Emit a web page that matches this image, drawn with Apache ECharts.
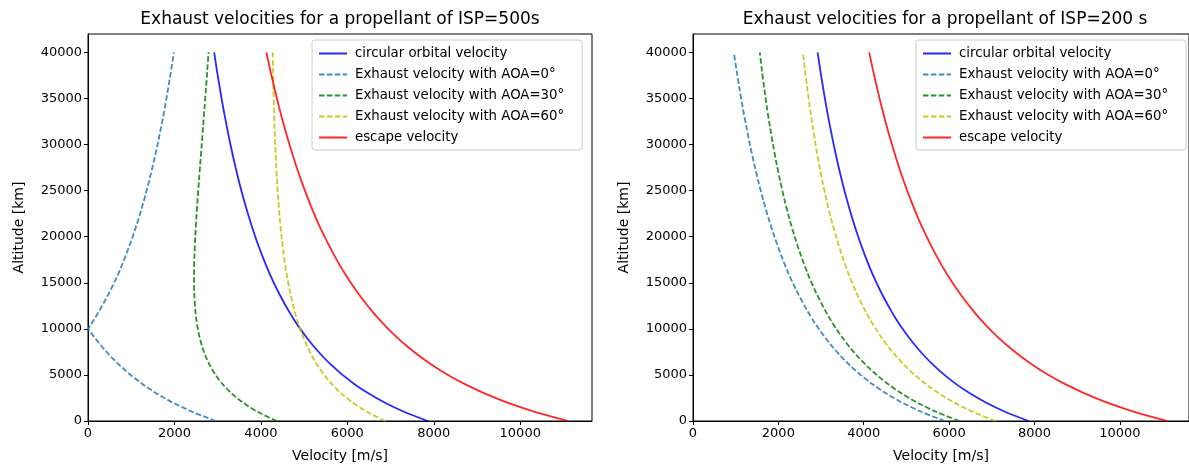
<!DOCTYPE html>
<html>
<head>
<meta charset="utf-8">
<script src="https://cdn.jsdelivr.net/npm/echarts@6/dist/echarts.min.js"></script>
<style>
html,body{margin:0;padding:0;background:#fff;}
#chart{width:1189px;height:468px;}
</style>
</head>
<body>
<div id="chart"></div>
<script>
// Altitude samples [km]
const altitude = [0,1000,2000,3000,4000,5000,6000,7000,8000,9000,10000,11000,12000,14000,16000,18000,20000,22000,24000,26000,28000,30000,32000,34000,36000,38000,40000];

// Shared curves [m/s]
const circularVel = [7860,7310,6861,6486,6166,5889,5647,5432,5240,5067,4910,4767,4636,4403,4201,4026,3870,3731,3606,3493,3390,3296,3209,3128,3054,2984,2919];
const escapeVel = [11116,10338,9703,9173,8720,8328,7986,7682,7410,7166,6944,6742,6556,6227,5941,5694,5473,5276,5100,4940,4794,4661,4538,4424,4319,4220,4128];

// ISP = 500 s
const isp500_aoa0 = [2955,2405,1956,1581,1261,984,742,527,335,162,5,138,269,502,704,879,1035,1174,1299,1412,1515,1609,1696,1777,1851,1921,1986];
const isp500_aoa30 = [4366,3923,3584,3320,3114,2951,2824,2723,2646,2586,2540,2507,2483,2457,2453,2463,2482,2506,2535,2566,2598,2631,2663,2696,2728,2759,2789];
const isp500_aoa60 = [6877,6453,6122,5858,5642,5464,5315,5189,5081,4988,4907,4837,4776,4674,4594,4530,4478,4436,4402,4373,4350,4331,4315,4301,4290,4281,4273];

// ISP = 200 s
const isp200_aoa0 = [5898,5348,4899,4524,4204,3927,3685,3470,3278,3105,2948,2805,2674,2441,2239,2064,1908,1769,1644,1531,1428,1334,1247,1166,1092,1022,957];
const isp200_aoa30 = [6238,5696,5254,4886,4573,4303,4068,3860,3674,3508,3357,3221,3096,2876,2687,2525,2382,2256,2144,2045,1955,1874,1801,1733,1673,1616,1565];
const isp200_aoa60 = [7086,6553,6121,5761,5456,5194,4966,4764,4585,4425,4281,4150,4031,3820,3641,3487,3352,3233,3127,3033,2948,2872,2802,2738,2680,2626,2577];

// Ticks
const xTicks = [0,2000,4000,6000,8000,10000];
const yTicks = [0,5000,10000,15000,20000,25000,30000,35000,40000];

const titles = ['Exhaust velocities for a propellant of ISP=500s', 'Exhaust velocities for a propellant of ISP=200 s'];
const seriesNames = ['circular orbital velocity','Exhaust velocity with AOA=0°','Exhaust velocity with AOA=30°','Exhaust velocity with AOA=60°','escape velocity'];
const xName = 'Velocity [m/s]';
const yName = 'Altitude [km]';

const FONT = 'DejaVu Sans';
const colors = ['rgba(0,0,255,0.85)','rgba(31,119,180,0.85)','rgba(0,128,0,0.85)','rgba(191,191,0,0.85)','rgba(255,0,0,0.85)'];
const dashed = [false,true,true,true,false];

function pairs(vals){ return vals.map((v,i)=>[v, altitude[i]]); }

const panels = [
  {curves:[circularVel, isp500_aoa0, isp500_aoa30, isp500_aoa60, escapeVel], left:88, xmax:11660, legendLeft:312},
  {curves:[circularVel, isp200_aoa0, isp200_aoa30, isp200_aoa60, escapeVel], left:693, xmax:11620, legendLeft:916}
];

const plain = v => String(v);
const grid=[], xAxis=[], yAxis=[], series=[], legend=[], title=[];
panels.forEach((p,gi)=>{
  grid.push({left:p.left, top:34, width:504, height:388, show:true, borderColor:'#000', borderWidth:1, backgroundColor:'transparent'});
  xAxis.push({
    type:'value', gridIndex:gi, min:0, max:p.xmax,
    name:xName, nameLocation:'middle', nameGap:28,
    nameTextStyle:{fontFamily:FONT, fontSize:14, color:'#000'},
    axisLine:{show:true, onZero:false, lineStyle:{color:'#000', width:1}},
    axisTick:{show:true, length:4, lineStyle:{color:'#000'}, customValues:xTicks},
    axisLabel:{fontFamily:FONT, fontSize:13, color:'#000', margin:6, customValues:xTicks, formatter:plain},
    splitLine:{show:false}
  });
  yAxis.push({
    type:'value', gridIndex:gi, min:0, max:42000,
    name:yName, nameLocation:'middle', nameGap:62,
    nameTextStyle:{fontFamily:FONT, fontSize:14, color:'#000'},
    axisLine:{show:true, onZero:false, lineStyle:{color:'#000', width:1}},
    axisTick:{show:true, length:4, lineStyle:{color:'#000'}, customValues:yTicks},
    axisLabel:{fontFamily:FONT, fontSize:13, color:'#000', margin:6, customValues:yTicks, formatter:plain},
    splitLine:{show:false}
  });
  title.push({text:titles[gi], left:p.left+252, top:11, textAlign:'center', padding:0,
    textStyle:{fontFamily:FONT, fontSize:17, fontWeight:'normal', color:'#000'}});
  legend.push({
    data:seriesNames, orient:'vertical', left:p.legendLeft, top:40,
    padding:[7,18,6,6], itemWidth:28, itemHeight:14, itemGap:8,
    backgroundColor:'rgba(255,255,255,0.8)', borderColor:'#cccccc', borderWidth:1, borderRadius:3,
    itemStyle:{opacity:0},
    textStyle:{fontFamily:FONT, fontSize:13.3, color:'#000', padding:[0,0,0,3]},
    selectedMode:false
  });
  p.curves.forEach((c,si)=>{
    series.push({
      name:seriesNames[si], type:'line', xAxisIndex:gi, yAxisIndex:gi,
      data:pairs(c), symbol:'none', showSymbol:false,
      smooth:(gi===0 && si===1) ? false : 0.3,
      lineStyle:{color:colors[si], width:1.8, type: dashed[si] ? [5.5,2.4] : 'solid'},
      itemStyle:{color:colors[si]},
      silent:true
    });
  });
});

const chart = echarts.init(document.getElementById('chart'), null, {renderer:'canvas'});
chart.setOption({animation:false, backgroundColor:'#fff', title, grid, xAxis, yAxis, legend, series});
</script>
</body>
</html>
